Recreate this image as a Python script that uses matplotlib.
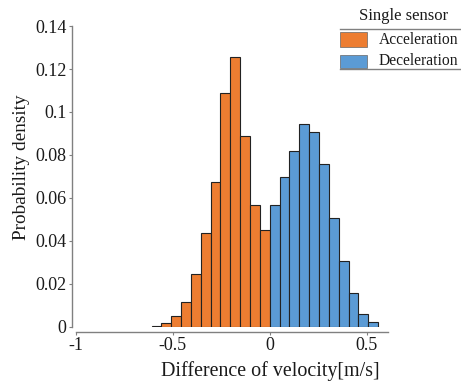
import numpy as np
import matplotlib
matplotlib.use("Agg")
import matplotlib.pyplot as plt
from matplotlib.patches import Rectangle
from matplotlib.lines import Line2D

plt.rcParams['font.family'] = ['Liberation Serif', 'DejaVu Serif']

# ---- data ----
bin_width = 0.0508
accel_start = -0.61
accel_density = [0.0005, 0.0018, 0.005, 0.0115, 0.0245, 0.0438, 0.0674,
                 0.109, 0.1257, 0.0889, 0.0567, 0.0449]
decel_start = 0.0
decel_density = [0.0568, 0.0696, 0.0820, 0.0942, 0.0909, 0.0760, 0.0507,
                 0.0306, 0.0156, 0.0057, 0.0020]
xticks = [-1, -0.5, 0, 0.5]
xtick_labels = ['-1', '-0.5', '0', '0.5']
yticks = [0, 0.02, 0.04, 0.06, 0.08, 0.1, 0.12, 0.14]
ytick_labels = ['0', '0.02', '0.04', '0.06', '0.08', '0.1', '0.12', '0.14']
series_names = ['Acceleration', 'Deceleration']
legend_title = 'Single sensor'
colors = ['#ED7D31', '#5B9BD5']

W, H = 461, 383
fig = plt.figure(figsize=(W / 100, H / 100), dpi=100)
ax = fig.add_axes([76 / W, 56.3 / H, (388 - 76) / W, 300.6 / H])

ax_x = accel_start + bin_width * np.arange(len(accel_density))
dx_x = decel_start + bin_width * np.arange(len(decel_density))
ax.bar(ax_x, accel_density, width=bin_width, align='edge', color=colors[0],
       edgecolor='#222222', linewidth=0.8)
ax.bar(dx_x, decel_density, width=bin_width, align='edge', color=colors[1],
       edgecolor='#222222', linewidth=0.8)

ax.set_xlim(-1, 0.61)
ax.set_ylim(0, 0.14)
for s in ['top', 'right']:
    ax.spines[s].set_visible(False)
spc = '#808080'
ax.spines['left'].set_position(('outward', 3.1))
ax.spines['bottom'].set_position(('outward', 3.8))
ax.spines['left'].set_color(spc)
ax.spines['bottom'].set_color(spc)
ax.spines['left'].set_linewidth(1.0)
ax.spines['bottom'].set_linewidth(1.0)
ax.set_xticks(xticks)
ax.set_xticklabels(xtick_labels)
ax.set_yticks(yticks)
ax.set_yticklabels(ytick_labels)
ax.tick_params(direction='out', length=2.2, width=0.8, color=spc,
               labelsize=13, labelcolor='#1a1a1a', pad=1.5)

fig.text(22 / W, 1 - 167.5 / H, 'Probability density', rotation=90,
         ha='center', va='center', fontsize=13.9, color='#1a1a1a')
fig.text(270.5 / W, 1 - 371 / H, 'Difference of velocity[m/s]',
         ha='center', va='center', fontsize=14.4, color='#1a1a1a')

# ---- table-style legend ----
def fx(px):
    return px / W
def fy(py):
    return 1 - py / H

fig.text(fx(404), fy(16), legend_title, ha='center', va='center',
         fontsize=12, color='#1a1a1a')
for yy in (29, 69):
    fig.add_artist(Line2D([fx(340), fx(461)], [fy(yy), fy(yy)],
                          color='#808080', linewidth=1.0))
rows = [(32, 47, 40), (54.5, 67.5, 61)]
for (t, b, c), col, name in zip(rows, colors, series_names):
    fig.add_artist(Rectangle((fx(340), fy(b)), fx(367) - fx(340),
                             fy(t) - fy(b), transform=fig.transFigure,
                             facecolor=col, edgecolor='#666666', linewidth=0.5))
    fig.text(fx(379), fy(c), name, ha='left', va='center', fontsize=11.2,
             color='#1a1a1a')

fig.savefig('out.png', dpi=100)
